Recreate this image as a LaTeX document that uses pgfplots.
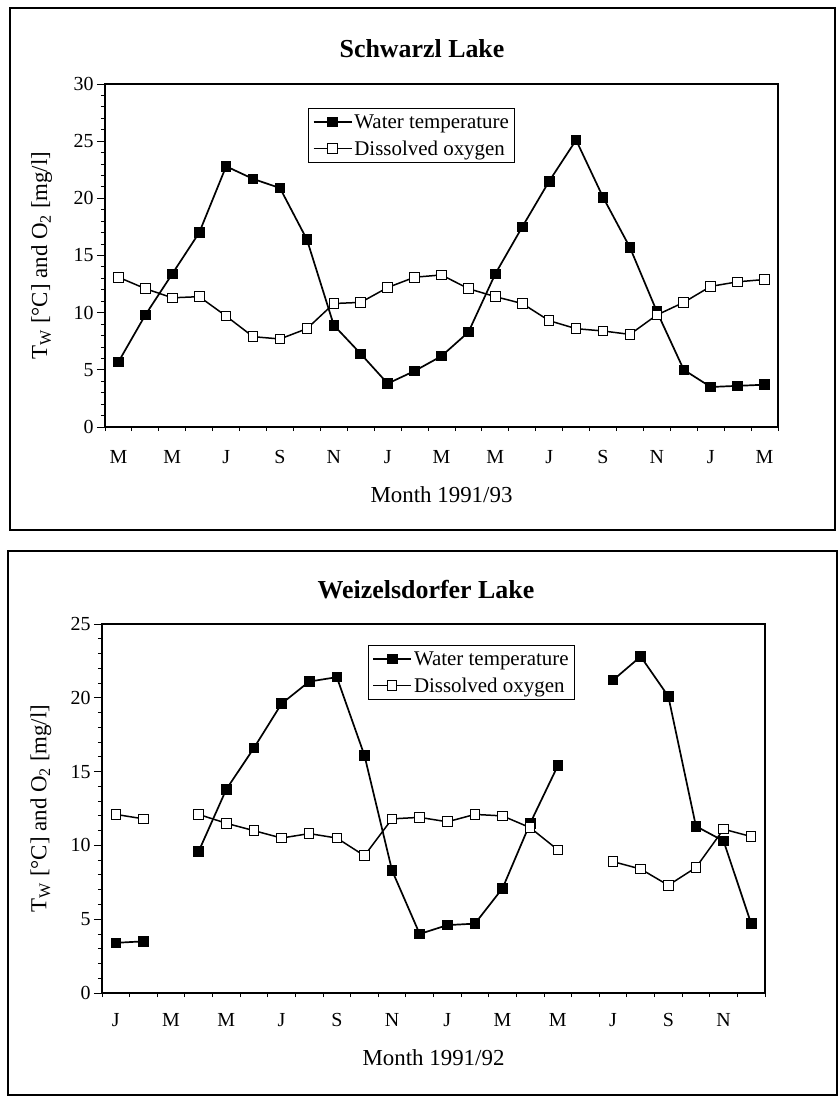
\documentclass[border=0pt]{standalone}
\usepackage{fontspec}
\setmainfont{Liberation Serif}
\usepackage{pgfplots}
\usepackage{pgfplotstable}
\pgfplotsset{compat=1.18}

\pgfplotstableread{
x T O
0.5 5.7 13.1
1.5 9.8 12.1
2.5 13.4 11.3
3.5 17.0 11.4
4.5 22.8 9.7
5.5 21.7 7.9
6.5 20.9 7.7
7.5 16.4 8.6
8.5 8.9 10.8
9.5 6.4 10.9
10.5 3.8 12.2
11.5 4.9 13.1
12.5 6.2 13.3
13.5 8.3 12.1
14.5 13.4 11.4
15.5 17.5 10.8
16.5 21.5 9.3
17.5 25.1 8.6
18.5 20.1 8.4
19.5 15.7 8.1
20.5 10.1 9.8
21.5 5.0 10.9
22.5 3.5 12.3
23.5 3.6 12.7
24.5 3.7 12.9
}\schwarzl

\pgfplotstableread{
x T O
0.5 3.4 12.1
1.5 3.5 11.8
2.5 nan nan
3.5 9.6 12.1
4.5 13.8 11.5
5.5 16.6 11.0
6.5 19.6 10.5
7.5 21.1 10.8
8.5 21.4 10.5
9.5 16.1 9.3
10.5 8.3 11.8
11.5 4.0 11.9
12.5 4.6 11.6
13.5 4.7 12.1
14.5 7.1 12.0
15.5 11.5 11.2
16.5 15.4 9.7
17.5 nan nan
18.5 21.2 8.9
19.5 22.8 8.4
20.5 20.1 7.3
21.5 11.3 8.5
22.5 10.3 11.1
23.5 4.7 10.6
}\weizel

\pgfplotsset{
  lakestyle/.style={
    scale only axis,
    clip=false,
    axis line style={line width=1.6bp},
    tick style={line width=0.9bp, black},
    major tick length=8bp,
    minor tick length=4bp,
    tick align=outside,
    major x tick style={draw=none},
    xtick pos=bottom, ytick pos=left,
    minor y tick num=4,
    ticklabel style={font=\fontsize{20}{22}\selectfont},
    /pgf/number format/assume math mode=true,
    label style={font=\fontsize{23}{26}\selectfont},
    legend style={font=\fontsize{21}{23}\selectfont, draw=black, line width=0.9bp,
      anchor=north west, inner xsep=4bp, inner ysep=4bp, row sep=7bp},
    legend cell align=left,
    legend image code/.code={\draw[##1, mark repeat=2, mark phase=2] plot coordinates {(0bp,0bp) (19bp,0bp) (38bp,0bp)};},
    unbounded coords=jump,
  },
  temp/.style={black, line width=1.7bp, mark=square*, mark size=4.8bp, mark options={solid, fill=black, line width=0.9bp}},
  oxy/.style={black, line width=1.5bp, mark=square*, mark size=4.8bp, mark options={solid, fill=white, line width=1.0bp}},
}

\begin{document}
\begin{tikzpicture}
\useasboundingbox (0,0) rectangle (840bp,-1097bp);
\draw[line width=1.5bp] (10bp,-8bp) rectangle (835bp,-530bp);
\draw[line width=1.5bp] (8bp,-551bp) rectangle (837bp,-1095bp);
\node[font=\bfseries\fontsize{26}{28}\selectfont] at (422bp,-49bp) {Schwarzl Lake};
\node[font=\bfseries\fontsize{26}{28}\selectfont] at (426bp,-590bp) {Weizelsdorfer Lake};

\begin{axis}[lakestyle,
  at={(105bp,-427bp)}, anchor=south west,
  width=673bp, height=343bp,
  xmin=0, xmax=25, ymin=0, ymax=30,
  ytick={0,5,...,30},
  xtick={0.5,2.5,...,24.5},
  xticklabels={M,M,J,S,N,J,M,M,J,S,N,J,M},
  xticklabel style={yshift=-12bp},
  minor xtick={0,1,...,25},
  xlabel={Month 1991/93},
  ylabel={T\textsubscript{W} [°C] and O\textsubscript{2} [mg/l]},
  xlabel style={at={(axis description cs:0.5,-0.198)}, anchor=center},
  ylabel style={at={(axis description cs:-0.094,0.5)}, anchor=center},
  legend style={at={(0.302,0.930)}},
]
\addplot[temp] table[x=x,y=T]{\schwarzl};
\addlegendentry{Water temperature}
\addplot[oxy] table[x=x,y=O]{\schwarzl};
\addlegendentry{Dissolved oxygen}
\end{axis}

\begin{axis}[lakestyle,
  at={(102bp,-993bp)}, anchor=south west,
  width=663bp, height=369bp,
  xmin=0, xmax=24, ymin=0, ymax=25,
  ytick={0,5,...,25},
  xtick={0.5,2.5,...,22.5},
  xticklabels={J,M,M,J,S,N,J,M,M,J,S,N},
  xticklabel style={yshift=-9bp},
  minor xtick={0,1,...,24},
  xlabel={Month 1991/92},
  ylabel={T\textsubscript{W} [°C] and O\textsubscript{2} [mg/l]},
  xlabel style={at={(axis description cs:0.5,-0.176)}, anchor=center},
  ylabel style={at={(axis description cs:-0.092,0.5)}, anchor=center},
  legend style={at={(0.401,0.943)}},
]
\addplot[temp] table[x=x,y=T]{\weizel};
\addlegendentry{Water temperature}
\addplot[oxy] table[x=x,y=O]{\weizel};
\addlegendentry{Dissolved oxygen}
\end{axis}
\end{tikzpicture}
\end{document}
